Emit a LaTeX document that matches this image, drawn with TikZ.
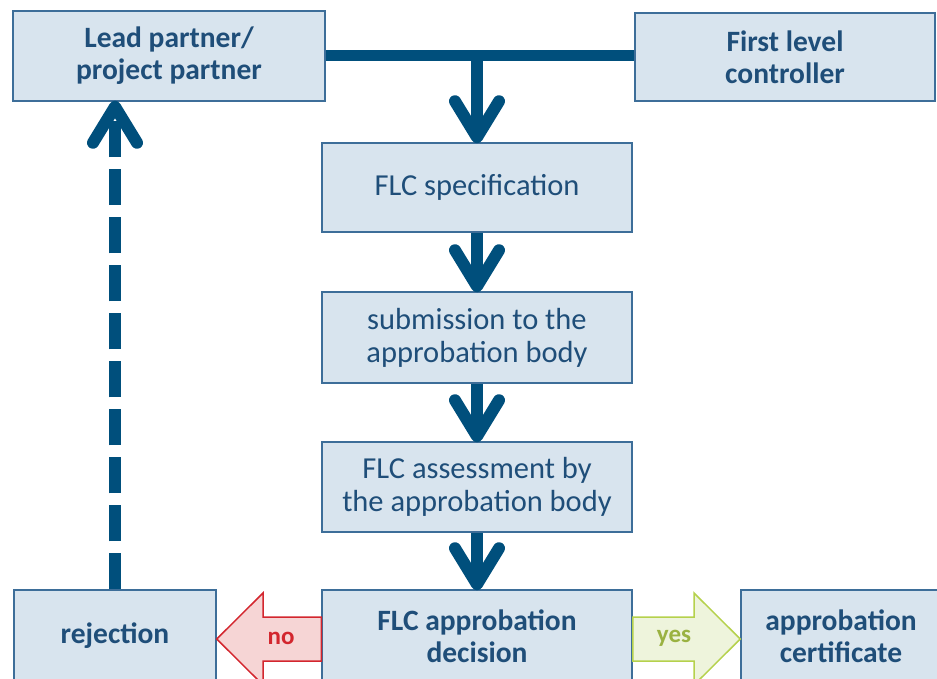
\documentclass[tikz,border=0pt]{standalone}
\usepackage{fontspec}
\setmainfont{Carlito}
\usetikzlibrary{arrows.meta,calc}
\definecolor{boxfill}{HTML}{D8E4EE}
\definecolor{boxline}{HTML}{3D6E99}
\definecolor{txt}{HTML}{1F4E79}
\definecolor{arr}{HTML}{004F7C}
\definecolor{nofill}{HTML}{F6D5D5}
\definecolor{noline}{HTML}{D3262E}
\definecolor{yesfill}{HTML}{EEF4DC}
\definecolor{yesline}{HTML}{B5D14C}
\tikzset{
  box/.style={draw=boxline, fill=boxfill, line width=1.5pt, text=txt, align=center, inner sep=0pt, font=\fontsize{30.5}{33}\selectfont},
  boldbox/.style={box, font=\fontsize{29.5}{32}\selectfont\bfseries},
  flow/.style={draw=arr, line width=12pt, -{Straight Barb[length=36pt,width=44pt,line cap=round,line join=round]}},
  bar/.style={draw=arr, line width=11pt},
  dashflow/.style={draw=arr, line width=12pt, dash pattern=on 36pt off 12pt, -{Straight Barb[length=36pt,width=44pt,line cap=round,line join=round]}},
}
\begin{document}
\begin{tikzpicture}[x=1pt,y=-1pt]
\useasboundingbox (0,0) rectangle (937,679);
\node[boldbox, minimum width=312pt, minimum height=90pt] (lead) at (169,56) {Lead partner/\\project partner};
\node[boldbox, minimum width=300pt, minimum height=88pt] (flc) at (785,57) {First level\\controller};
\node[box, minimum width=310pt, minimum height=89pt] (spec) at (477,187.5) {FLC specification};
\node[box, minimum width=310pt, minimum height=91pt] (sub) at (477,337.5) {submission to the\\approbation body};
\node[box, minimum width=310pt, minimum height=90pt] (ass) at (477,487) {FLC assessment by\\the approbation body};
\node[boldbox, minimum width=310pt, minimum height=92pt] (dec) at (477,636) {FLC approbation\\decision};
\node[boldbox, minimum width=202pt, minimum height=92pt] (rej) at (115,636) {rejection};
\node[boldbox, minimum width=200pt, minimum height=92pt] (cert) at (841,636) {approbation\\certificate};
% top bar
\draw[bar] (lead.east |- 0,56) -- (flc.west |- 0,56);
\coordinate (j) at (477,56);
\draw[flow] (j) -- ([yshift=-1pt]spec.north);
\draw[flow] (spec.south) -- ([yshift=-1pt]sub.north);
\draw[flow] (sub.south) -- ([yshift=-1pt]ass.north);
\draw[flow] (ass.south) -- ([yshift=-1pt]dec.north);
\draw[dashflow] (rej.north) -- ([yshift=1pt]rej.north |- lead.south);
% no arrow
\draw[draw=noline, fill=nofill, line width=1.5pt, line join=miter]
  (dec.west |- 0,617) -- (263,617) -- (263,593) -- (rej.east |- 0,639) -- (263,685) -- (263,661) -- (dec.west |- 0,661) -- cycle;
\node[text=noline, font=\fontsize{25}{27}\selectfont\bfseries] (no) at (281,638) {no};
% yes arrow
\draw[draw=yesline, fill=yesfill, line width=1.5pt, line join=miter]
  (dec.east |- 0,617) -- (694,617) -- (694,593) -- (cert.west |- 0,639) -- (694,685) -- (694,661) -- (dec.east |- 0,661) -- cycle;
\node[text=yesline!85!black, font=\fontsize{25}{27}\selectfont\bfseries] (yes) at (674,638) {yes};
\end{tikzpicture}
\end{document}
